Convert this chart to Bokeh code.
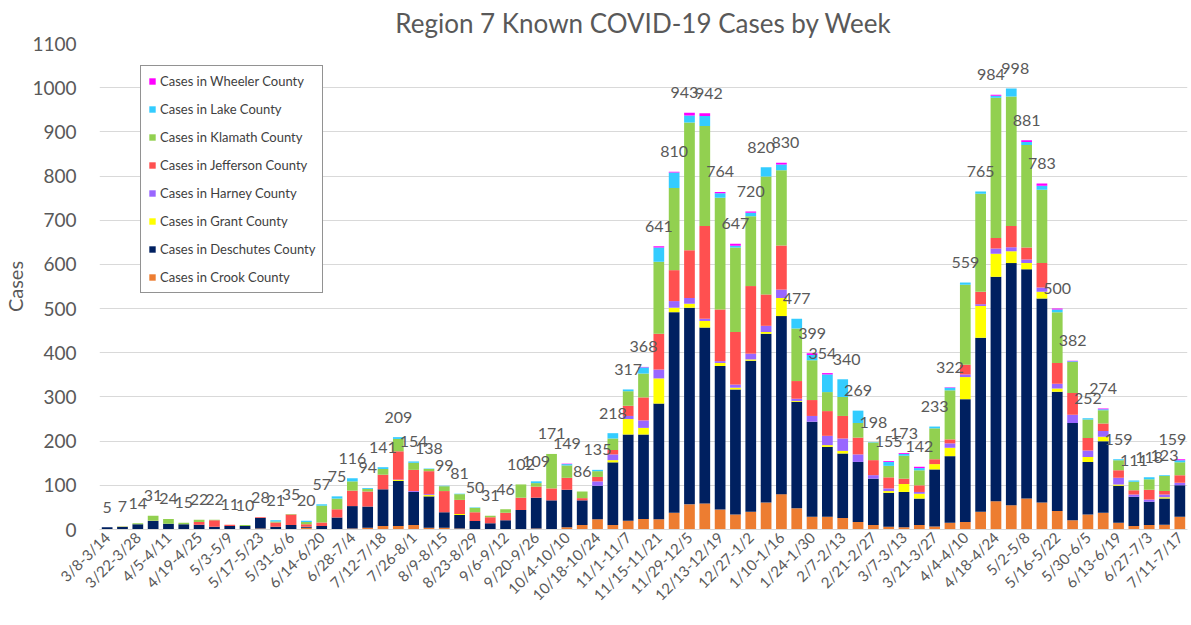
from bokeh.plotting import figure
from bokeh.models import (ColumnDataSource, Range1d, FixedTicker, Legend,
                          LegendItem, LabelSet)
from bokeh.core.properties import value
from bokeh.embed import file_html
from bokeh.resources import INLINE

weeks = ["3/8-3/14", "3/15-3/21", "3/22-3/28", "3/29-4/4", "4/5-4/11", "4/12-4/18",
         "4/19-4/25", "4/26-5/2", "5/3-5/9", "5/10-5/16", "5/17-5/23", "5/24-5/30",
         "5/31-6/6", "6/7-6/13", "6/14-6/20", "6/21-6/27", "6/28-7/4", "7/5-7/11",
         "7/12-7/18", "7/19-7/25", "7/26-8/1", "8/2-8/8", "8/9-8/15", "8/16-8/22",
         "8/23-8/29", "8/30-9/5", "9/6-9/12", "9/13-9/19", "9/20-9/26", "9/27-10/3",
         "10/4-10/10", "10/11-10/17", "10/18-10/24", "10/25-10/31", "11/1-11/7",
         "11/8-11/14", "11/15-11/21", "11/22-11/28", "11/29-12/5", "12/6-12/12",
         "12/13-12/19", "12/20-12/26", "12/27-1/2", "1/3-1/9", "1/10-1/16", "1/17-1/23",
         "1/24-1/30", "1/31-2/6", "2/7-2/13", "2/14-2/20", "2/21-2/27", "2/28-3/6",
         "3/7-3/13", "3/14-3/20", "3/21-3/27", "3/28-4/3", "4/4-4/10", "4/11-4/17",
         "4/18-4/24", "4/25-5/1", "5/2-5/8", "5/9-5/15", "5/16-5/22", "5/23-5/29",
         "5/30-6/5", "6/6-6/12", "6/13-6/19", "6/20-6/26", "6/27-7/3", "7/4-7/10",
         "7/11-7/17"]

totals = [5, 7, 14, 31, 24, 15, 22, 22, 11, 10, 28, 21, 35, 20, 57, 75, 116, 94, 141,
          209, 154, 138, 99, 81, 50, 31, 46, 102, 109, 171, 149, 86, 135, 218, 317, 368,
          641, 810, 943, 942, 764, 647, 720, 820, 830, 477, 399, 354, 340, 269, 198, 155,
          173, 142, 233, 322, 559, 765, 984, 998, 881, 783, 500, 382, 252, 274, 159, 111,
          118, 123, 159]

crook = [0, 0, 0, 0, 0, 0, 0, 0, 0, 0, 2, 0, 0, 4,
         0, 1, 2, 4, 8, 8, 10, 4, 4, 2, 1, 1, 1,
         1, 2, 0, 5, 10, 23, 10, 20, 24,
         23, 38, 57, 59, 45, 34, 40, 61, 80, 48,
         29, 29, 26, 17, 10, 6, 5, 10, 7, 15, 17,
         40, 64, 55, 70, 61, 42, 21, 34, 38, 15, 8, 10, 11, 29]

deschutes = [5, 6, 12, 19, 13, 12, 11, 6, 8, 8, 24, 6, 10, 2,
             8, 26, 51, 48, 83, 102, 75, 71, 35, 31, 18, 13, 20,
             43, 70, 66, 85, 56, 76, 142, 195, 191,
             262, 454, 445, 398, 325, 283, 342, 382, 403, 241,
             215, 158, 146, 136, 105, 77, 80, 60, 129, 151, 278,
             394, 508, 548, 519, 462, 270, 220, 119, 162, 84, 66, 53, 59, 71]

grant = [0, 1, 0, 0, 0, 0, 0, 0, 0, 0, 0, 0, 0, 0,
         0, 0, 0, 0, 0, 2, 0, 3, 0, 2, 0, 0, 0,
         0, 0, 0, 0, 0, 0, 5, 35, 15,
         57, 10, 9, 15, 7, 4, 3, 4, 41, 2,
         0, 4, 6, 0, 0, 4, 18, 11, 12, 19, 50,
         72, 52, 27, 14, 15, 7, 0, 11, 10, 3, 0, 0, 3, 0]

harney = [0, 0, 0, 0, 0, 0, 0, 0, 0, 0, 0, 0, 0, 0,
          0, 0, 0, 0, 0, 1, 2, 2, 0, 0, 0, 0, 0,
          0, 0, 0, 0, 0, 10, 13, 7, 17,
          20, 15, 13, 5, 4, 7, 13, 14, 19, 5,
          13, 21, 28, 17, 8, 6, 0, 4, 0, 10, 6,
          4, 12, 9, 8, 10, 11, 19, 15, 13, 15, 5, 5, 6, 6]

jefferson = [0, 0, 0, 1, 0, 0, 6, 15, 3, 0, 2, 10, 24, 6,
             8, 19, 35, 34, 33, 64, 48, 52, 48, 32, 20, 14, 17,
             28, 25, 27, 27, 5, 10, 10, 23, 52,
             81, 70, 108, 210, 117, 119, 153, 71, 100, 40,
             36, 56, 51, 38, 34, 25, 12, 15, 11, 9, 22,
             28, 24, 48, 27, 55, 47, 49, 28, 17, 17, 10, 22, 8, 17]

klamath = [0, 0, 2, 11, 11, 3, 5, 1, 0, 2, 0, 2, 1, 5,
           38, 24, 21, 6, 13, 28, 16, 5, 11, 13, 10, 3, 8,
           30, 8, 78, 28, 15, 13, 26, 33, 54,
           163, 186, 289, 226, 253, 191, 158, 267, 170, 119,
           90, 43, 43, 33, 40, 26, 52, 34, 70, 111, 181,
           222, 317, 293, 232, 166, 115, 70, 42, 30, 23, 19, 24, 34, 29]

lake = [0, 0, 0, 0, 0, 0, 0, 0, 0, 0, 0, 3, 0, 3,
        3, 5, 7, 2, 4, 4, 3, 1, 1, 1, 1, 0, 0,
        0, 4, 0, 3, 0, 3, 12, 4, 14,
        32, 35, 16, 23, 10, 4, 8, 21, 13, 22,
        12, 40, 40, 28, 1, 9, 4, 5, 4, 6, 5,
        5, 5, 18, 7, 9, 6, 2, 3, 2, 2, 3, 4, 2, 5]

wheeler = [0, 0, 0, 0, 0, 0, 0, 0, 0, 0, 0, 0, 0, 0,
           0, 0, 0, 0, 0, 0, 0, 0, 0, 0, 0, 0, 0,
           0, 0, 0, 1, 0, 0, 0, 0, 1,
           3, 2, 6, 6, 3, 5, 3, 0, 4, 0,
           4, 3, 0, 0, 0, 2, 2, 3, 0, 1, 0,
           0, 2, 0, 4, 5, 2, 1, 0, 2, 0, 0, 0, 0, 2]

counties = ["Crook", "Deschutes", "Grant", "Harney", "Jefferson", "Klamath", "Lake", "Wheeler"]
series = [crook, deschutes, grant, harney, jefferson, klamath, lake, wheeler]
colors = ["#ED7D31", "#002060", "#FFFF00", "#9966FF", "#FF5050", "#92D050", "#33CCFF", "#FF00FF"]

n = len(weeks)
x = list(range(n))
tops = [sum(v) for v in zip(*series)]

# frame geometry (pixels) used to nudge data labels apart / inside the frame
FRAME_W, FRAME_H = 1088, 486
px_per_unit = FRAME_H / 1100.0
px_per_bar = FRAME_W / float(n)
xoff = [0] * n
for i in range(n - 1):
    if abs(tops[i] - tops[i + 1]) * px_per_unit < 14 and tops[i] > 300:
        xoff[i] -= 5
        xoff[i + 1] += 4
for i in range(n):
    half = 4.7 * len(str(totals[i]))
    right = (i + 0.5) * px_per_bar + xoff[i] + half
    if right > FRAME_W - 1:
        xoff[i] -= right - (FRAME_W - 1)

data = {"x": x}
for name, vals in zip(counties, series):
    data[name] = vals
data["top"] = tops
data["label"] = [str(t) for t in totals]
data["xoff"] = xoff
source = ColumnDataSource(data)

GRAY = "#595959"
FONT = "Lato"

p = figure(frame_width=FRAME_W, frame_height=FRAME_H, output_backend="svg",
           toolbar_location=None,
           x_range=Range1d(-0.5, n - 0.5), y_range=Range1d(0, 1100),
           min_border_left=87, min_border_right=8, min_border_top=37,
           min_border_bottom=80)
p.outline_line_color = None

renderers = p.vbar_stack(counties, x="x", width=0.7, color=colors, line_color=None,
                         source=source)

labels = LabelSet(x="x", y="top", text="label", source=source, text_align="center",
                  text_baseline="middle", y_offset=20, x_offset="xoff",
                  text_color=GRAY, text_font=value(FONT), text_font_size="16px")
p.add_layout(labels)

items = [LegendItem(label="Cases in %s County" % c, renderers=[r])
         for c, r in zip(counties, renderers)][::-1]
legend = Legend(items=items, location=(41, 236), border_line_color="#262626",
                border_line_width=1.5, background_fill_color="white",
                background_fill_alpha=1.0, label_text_font=FONT,
                label_text_font_size="13px", label_text_color="#404040",
                glyph_width=8, glyph_height=8, label_height=14, spacing=12,
                padding=7, label_standoff=4, margin=0)
p.add_layout(legend)

p.title.text = "Region 7 Known COVID-19 Cases by Week"
p.title.align = "center"
p.title.text_font = FONT
p.title.text_font_size = "26px"
p.title.text_font_style = "normal"
p.title.text_color = GRAY
p.title.standoff = 9

p.xgrid.grid_line_color = None
p.ygrid.grid_line_color = "#D9D9D9"
p.ygrid.grid_line_width = 1

p.yaxis.ticker = FixedTicker(ticks=list(range(0, 1101, 100)))
p.yaxis.axis_line_color = None
p.yaxis.major_tick_line_color = None
p.yaxis.minor_tick_line_color = None
p.yaxis.major_tick_out = 0
p.yaxis.major_label_standoff = 23
p.yaxis.major_label_text_font = FONT
p.yaxis.major_label_text_font_size = "19px"
p.yaxis.major_label_text_color = GRAY
p.yaxis.axis_label = "Cases"
p.yaxis.axis_label_text_font = FONT
p.yaxis.axis_label_text_font_size = "20px"
p.yaxis.axis_label_text_font_style = "normal"
p.yaxis.axis_label_text_color = GRAY
p.yaxis.axis_label_standoff = 2

p.xaxis.ticker = FixedTicker(ticks=list(range(0, n, 2)))
p.xaxis.major_label_overrides = {i: weeks[i] for i in range(0, n, 2)}
p.xaxis.major_label_orientation = 0.785
p.xaxis.axis_line_color = "#D9D9D9"
p.xaxis.major_tick_line_color = None
p.xaxis.minor_tick_line_color = None
p.xaxis.major_tick_out = 0
p.xaxis.major_label_standoff = 5
p.xaxis.major_label_text_font = FONT
p.xaxis.major_label_text_font_size = "15px"
p.xaxis.major_label_text_color = GRAY

open("out.html", "w").write(file_html(p, INLINE))
